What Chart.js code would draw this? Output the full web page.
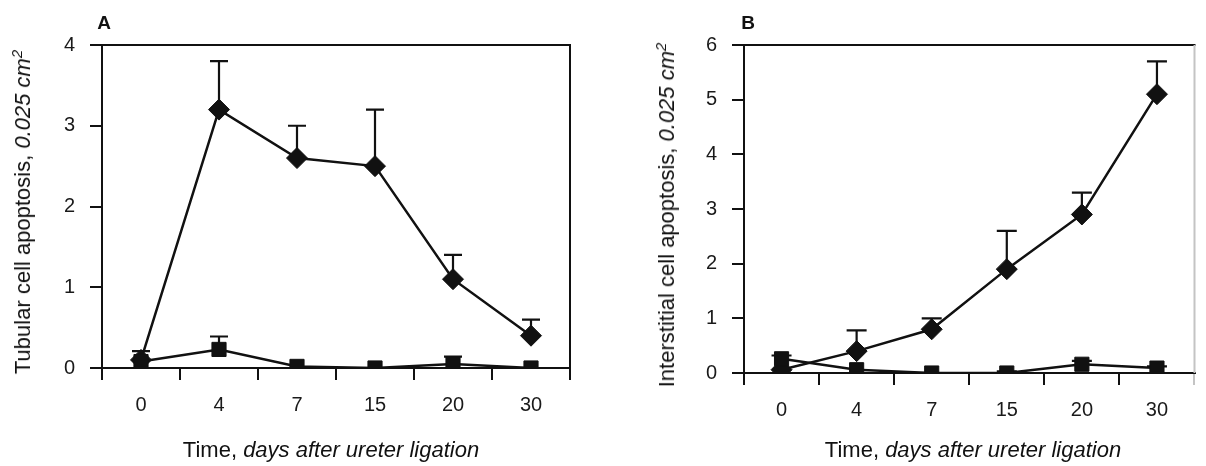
<!DOCTYPE html>
<html lang="en">
<head>
<meta charset="UTF-8">
<title>Apoptosis after ureter ligation</title>
<script src="https://cdn.jsdelivr.net/npm/chart.js@4.4.1/dist/chart.umd.min.js"></script>
<style>
  body { margin: 0; background: #fff; }
  #page { position: relative; width: 1206px; height: 466px; overflow: hidden;
          font-family: "Liberation Sans", Arial, sans-serif; color: #111; }
  canvas { position: absolute; top: 0; }
  .lbl { position: absolute; white-space: nowrap; font-size: 22px; line-height: 1;
         transform: translate(-50%, -50%); }
  .ytitle { transform: translate(-50%, -50%) rotate(-90deg); }
  .letter { position: absolute; font-weight: bold; font-size: 19px; line-height: 1;
            transform: translate(-50%, -50%); }
  sup { font-size: 0.68em; vertical-align: 0.55em; line-height: 0; }
</style>
</head>
<body>
<div id="page">
  <canvas id="chartA" width="600" height="466" style="left:0"></canvas>
  <canvas id="chartB" width="606" height="466" style="left:600px"></canvas>

  <div class="letter" style="left:104px; top:22px">A</div>
  <div class="letter" style="left:748px; top:22px">B</div>

  <div class="lbl ytitle" style="left:23px; top:212px">Tubular cell apoptosis, <i>0.025 cm<sup>2</sup></i></div>
  <div class="lbl ytitle" style="left:667px; top:215px">Interstitial cell apoptosis, <i>0.025 cm<sup>2</sup></i></div>

  <div class="lbl" style="left:331px; top:450px">Time, <i>days after ureter ligation</i></div>
  <div class="lbl" style="left:973px; top:450px">Time, <i>days after ureter ligation</i></div>
</div>
<script>
// days after ureter ligation
const days = ['0', '4', '7', '15', '20', '30'];

// panel A - tubular cell apoptosis
const tubularObstructed    = [0.1, 3.2, 2.6, 2.5, 1.1, 0.4];
const tubularObstructedTop = [0.21, 3.8, 3.0, 3.2, 1.4, 0.6];
const tubularControl       = [0.08, 0.23, 0.02, 0, 0.05, 0];
const tubularControlTop    = [null, 0.39, null, null, 0.14, null];

// panel B - interstitial cell apoptosis
const interObstructed    = [0.06, 0.4, 0.8, 1.9, 2.9, 5.1];
const interObstructedTop = [null, 0.78, 1.0, 2.6, 3.3, 5.7];
const interControl       = [0.26, 0.06, 0, 0, 0.16, 0.09];
const interControlTop    = [0.32, null, null, 0.03, 0.22, 0.12];

const INK = '#111';

// upward error bars with a cap, drawn through the chart scales
const errorBars = {
  id: 'errorBars',
  beforeDatasetsDraw(chart, args, opts) {
    const ctx = chart.ctx;
    const x = chart.scales.x, y = chart.scales.y;
    ctx.save();
    ctx.strokeStyle = INK;
    ctx.lineWidth = 2.2;
    chart.data.datasets.forEach(ds => {
      (ds.errors || []).forEach((top, i) => {
        if (top == null) return;
        const px = x.getPixelForValue(i);
        const py = y.getPixelForValue(ds.data[i]);
        const pt = y.getPixelForValue(top);
        ctx.beginPath();
        ctx.moveTo(px, py);
        ctx.lineTo(px, pt);
        ctx.moveTo(px - opts.cap / 2, pt);
        ctx.lineTo(px + opts.cap / 2, pt);
        ctx.stroke();
      });
    });
    ctx.restore();
  }
};

// top and right side of the plot box
const frame = {
  id: 'frame',
  afterDraw(chart, args, opts) {
    const a = chart.chartArea, ctx = chart.ctx;
    ctx.save();
    ctx.lineWidth = 2;
    ctx.strokeStyle = INK;
    ctx.beginPath();
    ctx.moveTo(a.left, a.top);
    ctx.lineTo(a.right + 1, a.top);
    ctx.stroke();
    ctx.strokeStyle = opts.rightColor;
    ctx.beginPath();
    ctx.moveTo(a.right, a.top);
    ctx.lineTo(a.right, a.bottom);
    ctx.stroke();
    ctx.restore();
  }
};

function makePanel(id, obs, obsTop, ctl, ctlTop, yMax, pad, cap, rightColor) {
  const font = { family: '"Liberation Sans", Arial, sans-serif', size: 20 };
  return new Chart(document.getElementById(id), {
    type: 'line',
    data: {
      labels: days,
      datasets: [
        { data: ctl, errors: ctlTop, borderColor: INK, backgroundColor: INK, borderWidth: 2.5,
          pointStyle: 'rect', pointRadius: 10, pointBorderWidth: 1, tension: 0 },
        { data: obs, errors: obsTop, borderColor: INK, backgroundColor: INK, borderWidth: 2.5,
          pointStyle: 'rectRot', pointRadius: 10.5, pointBorderWidth: 1, tension: 0 }
      ]
    },
    options: {
      responsive: false,
      animation: false,
      layout: { padding: pad },
      plugins: {
        legend: { display: false },
        tooltip: { enabled: false },
        errorBars: { cap: cap },
        frame: { rightColor: rightColor }
      },
      scales: {
        x: {
          offset: true,
          grid: { offset: true, drawOnChartArea: false, tickLength: 12, lineWidth: 2,
                  tickColor: c => c.type === 'tick' ? INK : rightColor },
          border: { color: INK, width: 2 },
          ticks: { font: font, color: '#1a1a1a', padding: 13 },
          afterFit(s) { s.height = 60; }
        },
        y: {
          min: 0, max: yMax,
          grid: { drawOnChartArea: false, tickLength: 12, lineWidth: 2, tickColor: INK },
          border: { color: INK, width: 2 },
          ticks: { stepSize: 1, font: font, color: '#1a1a1a', padding: 15 },
          afterFit(s) { s.width = 60; }
        }
      }
    },
    plugins: [errorBars, frame]
  });
}

makePanel('chartA', tubularObstructed, tubularObstructedTop, tubularControl, tubularControlTop,
          4, { left: 42, right: 30, top: 45, bottom: 38 }, 18, INK);
makePanel('chartB', interObstructed, interObstructedTop, interControl, interControlTop,
          6, { left: 84, right: 1, top: 45, bottom: 33 }, 20, '#c4c4c4');
</script>
</body>
</html>
